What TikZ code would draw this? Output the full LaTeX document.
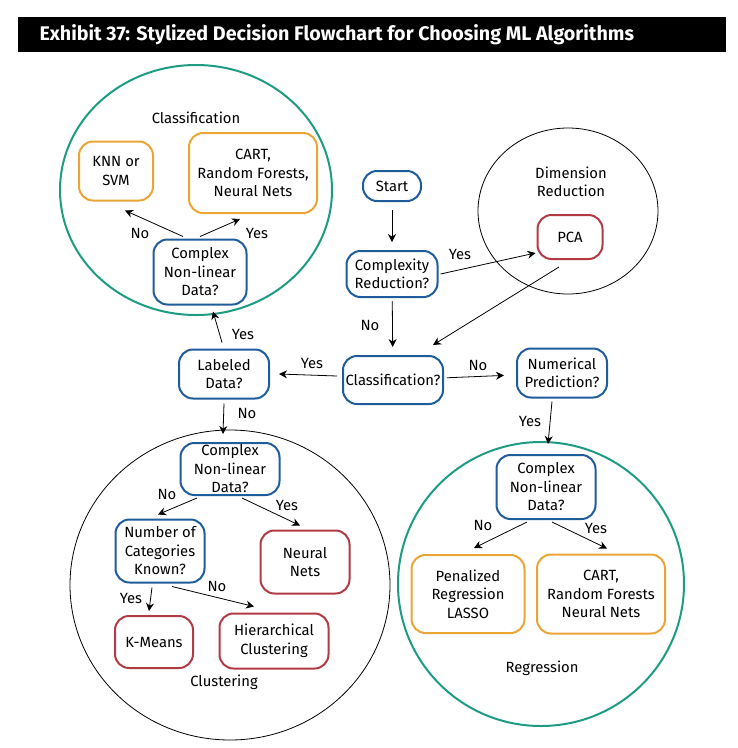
\documentclass[tikz,border=0pt]{standalone}
\usepackage{fontspec}
\setmainfont{Fira Sans}
\usetikzlibrary{arrows, arrows.meta, positioning}

\definecolor{askblue}{HTML}{1F5C9C}
\definecolor{algored}{HTML}{B23A44}
\definecolor{pickorange}{HTML}{EBA534}
\definecolor{ringgreen}{HTML}{1D9C82}

\begin{document}
\begin{tikzpicture}[x=1pt,y=-1pt]
	\tikzstyle{Ask} = [rectangle, rounded corners=14pt, align=center, draw=askblue, line width=2pt, inner sep=0pt, font=\fontsize{14.8}{18.5}\selectfont]
	\tikzstyle{Algo} = [Ask, draw=algored]
	\tikzstyle{Pick} = [Ask, draw=pickorange]
	\tikzstyle{Ring} = [draw=black, line width=0.8pt]
	\tikzstyle{Lbl} = [align=center, font=\fontsize{14.8}{18.5}\selectfont]
	\tikzstyle{arrow} = [line width=0.8pt, ->, >={Stealth[length=8pt, width=8pt]}]
	
	\useasboundingbox (0,0) rectangle (738,748);
	
	% title bar
	\fill [black] (18,17) rectangle (726,52);
	\node (title) [anchor=west, text=white, font=\fontsize{19.7}{20}\selectfont\bfseries] at (36,35) {Exhibit 37: Stylized Decision Flowchart for Choosing ML Algorithms};
	
	% groups
	\draw [Ring, draw=ringgreen, line width=2pt] (196,190) ellipse [x radius=136pt, y radius=125pt];
	\draw [Ring] (568,211) ellipse [x radius=90pt, y radius=83pt];
	\draw [Ring] (230,585) ellipse [x radius=160pt, y radius=155pt];
	\draw [Ring, draw=ringgreen, line width=2pt] (541,584) ellipse [x radius=143pt, y radius=142pt];
	\node (gcls) [Lbl] at (196,118) {Classification};
	\node (gdim) [Lbl] at (571,182) {Dimension\\Reduction};
	\node (gclu) [Lbl] at (224,682) {Clustering};
	\node (greg) [Lbl] at (542,668) {Regression};
	
	% questions
	\node (start) [Ask, minimum width=58pt, minimum height=30pt] at (392,186) {Start};
	\node (cred) [Ask, minimum width=91pt, minimum height=46pt] at (392,274) {Complexity\\Reduction?};
	\node (cls) [Ask, minimum width=100pt, minimum height=48pt] at (393,380) {Classification?};
	\node (num) [Ask, minimum width=90pt, minimum height=49pt] at (562,373) {Numerical\\Prediction?};
	\node (lab) [Ask, minimum width=90pt, minimum height=49pt] at (224,374) {Labeled\\Data?};
	\node (ccnl) [Ask, minimum width=93pt, minimum height=65pt] at (200,272) {Complex\\Non-linear\\Data?};
	\node (kcnl) [Ask, minimum width=99pt, minimum height=52pt] at (230,469) {Complex\\Non-linear\\Data?};
	\node (ncat) [Ask, minimum width=89pt, minimum height=63pt] at (160,551) {Number of\\Categories\\Known?};
	\node (rcnl) [Ask, minimum width=99pt, minimum height=64pt] at (546,487) {Complex\\Non-linear\\Data?};
	
	% algorithms
	\node (knn) [Pick, minimum width=74pt, minimum height=59pt] at (116,171) {KNN or\\SVM};
	\node (ccart) [Pick, minimum width=128pt, minimum height=80pt] at (253,173) {CART,\\Random Forests,\\Neural Nets};
	\node (pen) [Pick, minimum width=113pt, minimum height=78pt] at (468,594) {Penalized\\Regression\\LASSO};
	\node (rcart) [Pick, minimum width=128pt, minimum height=79pt] at (601,594) {CART,\\Random Forests\\Neural Nets};
	\node (pca) [Algo, minimum width=65pt, minimum height=44pt] at (570,237) {PCA};
	\node (nn) [Algo, minimum width=89pt, minimum height=63pt] at (305,562) {Neural\\Nets};
	\node (kmeans) [Algo, minimum width=78pt, minimum height=52pt] at (154,642) {K-Means};
	\node (hier) [Algo, minimum width=109pt, minimum height=55pt] at (274,641) {Hierarchical\\Clustering};
	
	% flow
	\draw [arrow, shorten <=8pt, shorten >=8pt] (start) -- (cred);
	\draw [arrow] ([xshift=2pt]cred.east) -- ([xshift=-1pt, yshift=-16pt]pca.west);
	\draw [arrow] ([xshift=-11pt, yshift=-7pt]pca.south) -- ([xshift=40pt, yshift=10pt]cls.north);
	\draw [arrow, shorten <=3pt, shorten >=8pt] (cred) -- (cls);
	\draw [arrow, shorten <=3pt, shorten >=12pt] (cls) -- (num);
	\draw [arrow] ([xshift=-10pt, yshift=-3pt]num.south) -- ([xshift=2pt, yshift=10pt]rcnl.north);
	\draw [arrow] ([xshift=-19pt, yshift=-2pt]rcnl.south) -- ([xshift=6pt, yshift=6pt]pen.north);
	\draw [arrow] ([xshift=6pt, yshift=-2pt]rcnl.south) -- ([xshift=6pt, yshift=5pt]rcart.north);
	\draw [arrow] ([xshift=-5pt, yshift=4pt]cls.west) -- ([xshift=9pt]lab.east);
	\draw [arrow] ([xshift=-2pt, yshift=6pt]lab.north) -- ([xshift=13pt, yshift=-6pt]ccnl.south);
	\draw [arrow] ([yshift=-4pt]lab.south) -- ([xshift=-7pt, yshift=8pt]kcnl.north);
	\draw [arrow] ([xshift=-17pt, yshift=2pt]ccnl.north) -- ([xshift=9pt, yshift=-9pt]knn.south);
	\draw [arrow] ([yshift=2pt]ccnl.north) -- ([xshift=-13pt, yshift=-5pt]ccart.south);
	\draw [arrow] ([xshift=-33pt, yshift=-2pt]kcnl.south) -- ([xshift=-2pt, yshift=4pt]ncat.north);
	\draw [arrow] ([xshift=12pt, yshift=-2pt]kcnl.south) -- ([xshift=-5pt, yshift=4pt]nn.north);
	\draw [arrow] ([xshift=-8pt, yshift=-4pt]ncat.south) -- ([xshift=-5pt, yshift=4pt]kmeans.north);
	\draw [arrow] ([xshift=12pt, yshift=-3pt]ncat.south) -- ([xshift=-20pt, yshift=6pt]hier.north);
	
	% answers
	\node (aknn) [Lbl] at (140,233) {No};
	\node (acart) [Lbl] at (257,233) {Yes};
	\node (apca) [Lbl] at (460,254) {Yes};
	\node (acls) [Lbl] at (370,325) {No};
	\node (anum) [Lbl] at (478,365) {No};
	\node (areg) [Lbl] at (530,421) {Yes};
	\node (alab) [Lbl] at (312,363) {Yes};
	\node (asup) [Lbl] at (243,334) {Yes};
	\node (aclu) [Lbl] at (247,413) {No};
	\node (ancat) [Lbl] at (167,494) {No};
	\node (ann) [Lbl] at (287,505) {Yes};
	\node (akm) [Lbl] at (131,598) {Yes};
	\node (ahier) [Lbl] at (217,586) {No};
	\node (apen) [Lbl] at (483,525) {No};
	\node (arcart) [Lbl] at (596,528) {Yes};
\end{tikzpicture}
\end{document}
